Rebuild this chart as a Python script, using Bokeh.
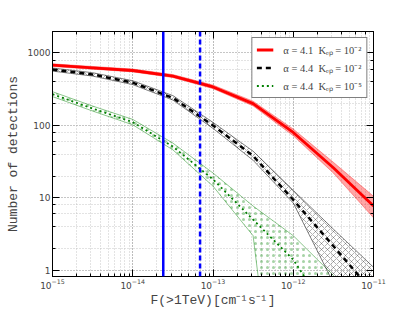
import numpy as np
from bokeh.plotting import figure
from bokeh.models import (LogAxis, Legend, LegendItem, PrintfTickFormatter, Span,
                          ColumnDataSource, LogTicker)
from bokeh.embed import file_html
from bokeh.resources import INLINE

# ---- data ----
flux = [1e-15, 3.16e-15, 1e-14, 3.16e-14, 1e-13, 3.16e-13, 1e-12, 3.16e-12, 1e-11]

red_mid = [678, 624, 573, 480, 340, 200, 80, 26, 7.7]
red_lo = [650, 598, 548, 458, 322, 186, 72, 22, 5.3]
red_hi = [708, 652, 600, 504, 360, 216, 89, 31, 10.5]

blk_mid = [590, 506, 389, 240, 100, 38, 9.4, 2.16, 0.49]
blk_lo = [562, 480, 366, 224, 91, 33, 8.5, 0.67, 0.0]
blk_hi = [620, 534, 414, 258, 110, 44, 12.7, 3.7, 1.1]

grn_mid = [270, 171, 111, 51, 18, 5.0, 1.4, 0.2, 0.02]
grn_lo = [250, 158, 102, 46, 14.5, 3.0, 0.0, 0.0, 0.0]
grn_hi = [292, 185, 121, 57, 22, 7.7, 3.0, 0.85, 0.0]

vline_solid = 2.4e-14
vline_dashed = 6.9e-14

labels = ["α = 4.1  Kₑₚ = 10⁻²", "α = 4.4  Kₑₚ = 10⁻²", "α = 4.4  Kₑₚ = 10⁻⁵"]

FLOOR = 1e-4  # log axis cannot show 0: zeros are drawn far below the frame


def pos(a):
    a = np.asarray(a, dtype=float)
    return np.where(a > 0, a, FLOOR)


p = figure(width=412, height=310, x_axis_type="log", y_axis_type="log",
           x_range=(1e-15, 1e-11), y_range=(0.82, 1980),
           output_backend="svg", toolbar_location=None,
           min_border_left=52, min_border_right=39, min_border_top=31,
           min_border_bottom=31)
p.background_fill_color = "white"
p.border_fill_color = "white"
p.outline_line_color = "black"
p.outline_line_width = 1

# grid
for g in (p.xgrid, p.ygrid):
    g.grid_line_color = "#9a9a9a"
    g.grid_line_dash = "1 2"
    g.grid_line_width = 0.8
    g.minor_grid_line_color = "#b8b8b8"
    g.minor_grid_line_dash = "1 2"
    g.minor_grid_line_width = 0.8

src = ColumnDataSource(dict(
    x=flux,
    rm=pos(red_mid), rl=pos(red_lo), rh=pos(red_hi),
    bm=pos(blk_mid), bl=pos(blk_lo), bh=pos(blk_hi),
    gm=pos(grn_mid), gl=pos(grn_lo), gh=pos(grn_hi),
))

# bands
p.varea(x="x", y1="gl", y2="gh", source=src, fill_alpha=0,
        hatch_pattern=".", hatch_color="green", hatch_alpha=0.35,
        hatch_scale=6, hatch_weight=1)
p.line(x="x", y="gl", source=src, line_color="green", line_alpha=0.45, line_width=1)
p.line(x="x", y="gh", source=src, line_color="green", line_alpha=0.45, line_width=1)

p.varea(x="x", y1="bl", y2="bh", source=src, fill_alpha=0,
        hatch_pattern="x", hatch_color="black", hatch_alpha=0.5,
        hatch_scale=6, hatch_weight=0.6)
p.line(x="x", y="bl", source=src, line_color="black", line_alpha=0.5, line_width=1)
p.line(x="x", y="bh", source=src, line_color="black", line_alpha=0.5, line_width=1)

p.varea(x="x", y1="rl", y2="rh", source=src, fill_color="red", fill_alpha=0.35)
p.line(x="x", y="rl", source=src, line_color="red", line_alpha=0.35, line_width=1)
p.line(x="x", y="rh", source=src, line_color="red", line_alpha=0.35, line_width=1)

# central lines
r_red = p.line(x="x", y="rm", source=src, line_color="red", line_width=2.8)
r_blk = p.line(x="x", y="bm", source=src, line_color="black", line_width=2.5,
               line_dash="5 4")
r_grn = p.line(x="x", y="gm", source=src, line_color="green", line_width=1.8,
               line_dash="2 3")

# vertical markers
p.add_layout(Span(location=vline_solid, dimension="height", line_color="blue",
                  line_width=2.5))
p.add_layout(Span(location=vline_dashed, dimension="height", line_color="blue",
                  line_width=2.5, line_dash="5 3"))

# axes
for ax in (p.xaxis[0], p.yaxis[0]):
    ax.major_tick_in = 7
    ax.major_tick_out = 0
    ax.minor_tick_in = 3
    ax.minor_tick_out = 0
    ax.major_label_text_font = "DejaVu Sans"
    ax.major_label_text_font_size = "9px"
    ax.major_label_standoff = 2
    ax.axis_line_color = "black"
    ax.axis_label_text_font = "Liberation Mono"
    ax.axis_label_text_font_style = "normal"
    ax.axis_label_text_font_size = "13px"
    ax.axis_label_standoff = 1

p.yaxis[0].ticker = LogTicker(desired_num_ticks=4)
p.yaxis[0].formatter = PrintfTickFormatter(format="%d")
p.yaxis[0].axis_label = "Number of detections"
p.yaxis[0].axis_label_standoff = 4
p.xaxis[0].axis_label = "F(>1TeV)[cm⁻¹s⁻¹]"

for loc in ("right", "above"):
    ax = LogAxis(major_label_text_font_size="1px", major_label_text_color=None,
                 major_tick_in=7, major_tick_out=0,
                 minor_tick_in=3, minor_tick_out=0, major_label_standoff=0,
                 axis_line_color="black")
    p.add_layout(ax, loc)

legend = Legend(items=[LegendItem(label=labels[0], renderers=[r_red]),
                       LegendItem(label=labels[1], renderers=[r_blk]),
                       LegendItem(label=labels[2], renderers=[r_grn])],
                location="top_right", margin=6, padding=4, spacing=3,
                glyph_width=17, glyph_height=15, label_height=15,
                label_standoff=10, label_text_font="Liberation Serif",
                label_text_font_size="10.5px", border_line_color="black",
                border_line_width=1, background_fill_alpha=1)
p.add_layout(legend, "center")

open("out.html", "w").write(file_html(p, INLINE))
